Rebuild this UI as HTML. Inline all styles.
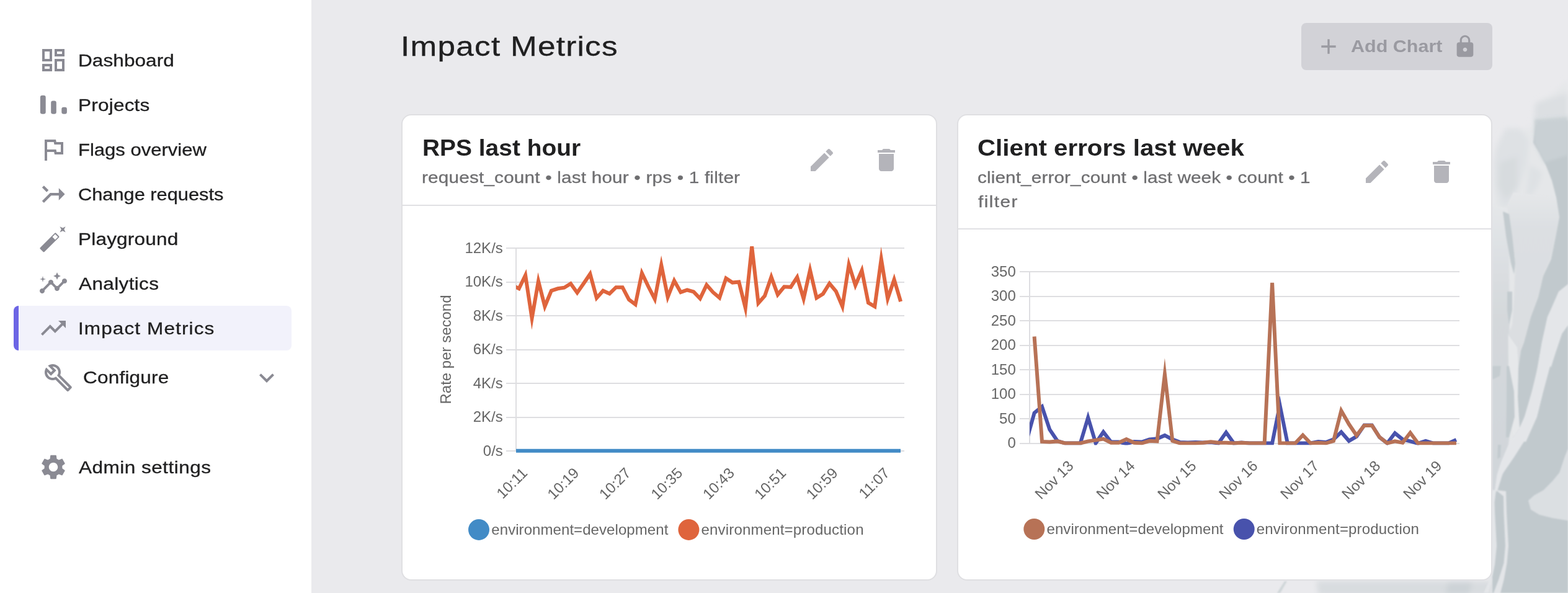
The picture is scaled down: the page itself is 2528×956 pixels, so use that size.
<!DOCTYPE html>
<html lang="en">
<head>
<meta charset="utf-8">
<title>Impact Metrics</title>
<meta name="viewport" content="width=2528">
<style>
*{box-sizing:border-box;margin:0;padding:0}
html,body{width:2528px;height:956px;overflow:hidden;background:#EAEAED}
body{font-family:"Liberation Sans",sans-serif;color:#202021;position:relative;-webkit-font-smoothing:antialiased}
.t{position:absolute;white-space:nowrap;font-weight:400;text-decoration:none;transform-origin:0 0;-webkit-text-stroke:0.3px currentColor}
.t.b{-webkit-text-stroke:0}
.ic{position:absolute;display:block}
#sidebar{position:absolute;left:0;top:0;width:502px;height:956px;background:#fff}
#sidebar ul{list-style:none}
.active{position:absolute;left:22px;top:493px;width:448px;height:72px;background:#F2F2FB;border-left:8px solid #6C65E5;border-radius:8px}
#main{position:absolute;left:502px;top:0;width:2026px;height:956px;background:#EAEAED;overflow:hidden}
#art{position:absolute;left:0;top:0;width:2026px;height:956px}
.abs{position:absolute;left:-502px;top:0;width:2528px;height:956px}
#addchart{position:absolute;left:2098px;top:37px;width:308px;height:76px;border-radius:8px;background:#D2D2D7;border:0}
.card{position:absolute;background:#fff;border:2px solid #DFDFE2;border-radius:16px}
.divider{position:absolute;height:2px;background:#E1E1E4}
svg.chart{position:absolute;left:0;top:0;width:2528px;height:956px;overflow:visible}
svg.chart text{font-family:"Liberation Sans",sans-serif;font-size:24px;fill:#666}
</style>
</head>
<body>

<aside id="sidebar"><nav aria-label="Main navigation">
<div class="active"></div>
<svg class="ic" style="left:62px;top:73px;width:48px;height:48px" viewBox="0 0 24 24" fill="#8A8A93" aria-hidden="true"><path d="M19 5v2h-4V5h4M9 5v6H5V5h4m10 8v6h-4v-6h4M9 17v2H5v-2h4M21 3h-8v6h8V3zM11 3H3v10h8V3zm10 8h-8v10h8V11zm-10 4H3v6h8v-6z"/></svg>
<a class="t" style="left:126.07px;top:79.60px;font-size:27.7px;line-height:36px;letter-spacing:0.044px;color:#202021;transform:scaleX(1.1400);">Dashboard</a>
<svg class="ic" style="left:62px;top:145px;width:48px;height:48px" viewBox="0 0 24 24" fill="#8A8A93" aria-hidden="true"><rect x="1.45" y="4.35" width="4.4" height="15" rx="1.6"/><rect x="10.1" y="8.75" width="4.3" height="10.6" rx="1.6"/><rect x="18.65" y="13.9" width="4.3" height="5.45" rx="1.6"/></svg>
<a class="t" style="left:126.07px;top:151.60px;font-size:27.7px;line-height:36px;letter-spacing:0.167px;color:#202021;transform:scaleX(1.1400);">Projects</a>
<svg class="ic" style="left:62px;top:217px;width:48px;height:48px" viewBox="0 0 24 24" fill="#8A8A93" aria-hidden="true"><path d="M12.36 6l.4 2H18v6h-3.36l-.4-2H7V6h5.36M14 4H5v17h2v-7h5.6l.4 2h7V6h-5.6L14 4z"/></svg>
<a class="t" style="left:126.22px;top:223.60px;font-size:27.7px;line-height:36px;letter-spacing:0.000px;color:#202021;transform:scaleX(1.1203);">Flags overview</a>
<svg class="ic" style="left:59.9px;top:286.9px;width:52.2px;height:52.2px" viewBox="0 0 24 24" fill="#8A8A93" aria-hidden="true"><g transform="matrix(0,-1,-1,0,24,24)"><path d="M17 20.41L18.41 19 15 15.59 13.59 17 17 20.41zM7.5 8H11v5.59L5.59 19 7 20.41l6-6V8h3.5L12 3.5 7.5 8z"/></g></svg>
<a class="t" style="left:126.06px;top:295.60px;font-size:27.7px;line-height:36px;letter-spacing:0.000px;color:#202021;transform:scaleX(1.1113);">Change requests</a>
<svg class="ic" style="left:62px;top:361px;width:48px;height:48px" viewBox="0 0 24 24" fill="#8A8A93" aria-hidden="true"><path d="M19.53 4.43m-2.3-2.3l2.3 1.15 2.3-1.15-1.15 2.3 1.15 2.3-2.3-1.15-2.3 1.15 1.15-2.3z"/><g transform="translate(8.96 14.99) rotate(-45)"><path fill-rule="evenodd" d="M-8.3-2.4h16.6a.7.7 0 0 1 .7.7v3.4a.7.7 0 0 1-.7.7h-16.6a.7.7 0 0 1-.7-.7v-3.4a.7.7 0 0 1 .7-.7zM4.8-1.6v3.2h3.2v-3.2z"/></g></svg>
<a class="t" style="left:126.17px;top:367.60px;font-size:27.7px;line-height:36px;letter-spacing:0.150px;color:#202021;transform:scaleX(1.1400);">Playground</a>
<svg class="ic" style="left:62px;top:433px;width:48px;height:48px" viewBox="0 0 24 24" fill="#8A8A93" aria-hidden="true"><path d="M21 8c-1.45 0-2.26 1.44-1.93 2.51l-3.55 3.56c-.3-.09-.74-.09-1.04 0l-2.55-2.55C12.27 10.45 11.46 9 10 9c-1.45 0-2.27 1.44-1.93 2.52l-4.56 4.55C2.44 15.74 1 16.55 1 18c0 1.1.9 2 2 2 1.45 0 2.26-1.44 1.93-2.51l4.55-4.56c.3.09.74.09 1.04 0l2.55 2.55C12.73 16.55 13.54 18 15 18c1.45 0 2.27-1.44 1.93-2.52l3.56-3.55c1.07.33 2.51-.48 2.51-1.93 0-1.1-.9-2-2-2z"/><path d="M15 9l.94-2.07L18 6l-2.06-.93L15 3l-.92 2.07L12 6l2.08.93z"/><path d="M3.5 11L4 9l2-.5L4 8l-.5-2L3 8l-2 .5L3 9z"/></svg>
<a class="t" style="left:126.80px;top:439.60px;font-size:27.7px;line-height:36px;letter-spacing:0.295px;color:#202021;transform:scaleX(1.1400);">Analytics</a>
<svg class="ic" style="left:62px;top:505px;width:48px;height:48px" viewBox="0 0 24 24" fill="#8A8A93" aria-hidden="true"><path d="M16 6l2.29 2.29-4.88 4.88-4-4L2 16.59 3.41 18l6-6 4 4 6.3-6.29L22 12V6z"/></svg>
<a class="t" style="left:125.86px;top:511.60px;font-size:27.7px;line-height:36px;letter-spacing:0.951px;color:#202021;transform:scaleX(1.1400);">Impact Metrics</a>
<svg class="ic" style="left:70px;top:585px;width:48px;height:48px" viewBox="0 0 24 24" fill="#8A8A93" aria-hidden="true"><path d="M22.61 18.99l-9.08-9.08c.93-2.34.45-5.1-1.44-7C9.79.61 6.21.4 3.66 2.26L7.5 6.11 6.08 7.52 2.25 3.69C.39 6.23.6 9.82 2.9 12.11c1.86 1.86 4.57 2.35 6.89 1.48l9.11 9.11c.39.39 1.02.39 1.41 0l2.3-2.3c.4-.38.4-1.01 0-1.41zm-3 1.6l-9.46-9.46c-.61.45-1.29.72-2 .82-1.36.2-2.79-.21-3.83-1.25C3.37 9.76 2.93 8.5 3 7.26l3.09 3.09 4.24-4.24-3.09-3.09c1.24-.07 2.49.37 3.44 1.31 1.08 1.08 1.49 2.57 1.24 3.96-.12.71-.42 1.37-.88 1.96l9.45 9.45-.88.89z"/></svg>
<a class="t" style="left:133.92px;top:591.40px;font-size:27.7px;line-height:36px;letter-spacing:0.159px;color:#202021;transform:scaleX(1.1400);">Configure</a>
<svg class="ic" style="left:406px;top:585px;width:48px;height:48px" viewBox="0 0 24 24" fill="#8A8A93" aria-hidden="true"><path d="M16.59 8.59L12 13.17 7.41 8.59 6 10l6 6 6-6z"/></svg>
<svg class="ic" style="left:62px;top:729px;width:48px;height:48px" viewBox="0 0 24 24" fill="#8A8A93" aria-hidden="true"><path d="M19.14 12.94c.04-.3.06-.61.06-.94 0-.32-.02-.64-.07-.94l2.03-1.58c.18-.14.23-.41.12-.61l-1.92-3.32c-.12-.22-.37-.29-.59-.22l-2.39.96c-.5-.38-1.03-.7-1.62-.94l-.36-2.54c-.04-.24-.24-.41-.48-.41h-3.84c-.24 0-.43.17-.47.41l-.36 2.54c-.59.24-1.13.57-1.62.94l-2.39-.96c-.22-.08-.47 0-.59.22L2.74 8.87c-.12.21-.08.47.12.61l2.03 1.58c-.05.3-.09.63-.09.94s.02.64.07.94l-2.03 1.58c-.18.14-.23.41-.12.61l1.92 3.32c.12.22.37.29.59.22l2.39-.96c.5.38 1.03.7 1.62.94l.36 2.54c.05.24.24.41.48.41h3.84c.24 0 .44-.17.47-.41l.36-2.54c.59-.24 1.13-.56 1.62-.94l2.39.96c.22.08.47 0 .59-.22l1.92-3.32c.12-.22.07-.47-.12-.61l-2.01-1.58zM12 15.6c-1.98 0-3.6-1.62-3.6-3.6s1.62-3.6 3.6-3.6 3.6 1.62 3.6 3.6-1.62 3.6-3.6 3.6z"/></svg>
<a class="t" style="left:126.60px;top:735.60px;font-size:27.7px;line-height:36px;letter-spacing:0.402px;color:#202021;transform:scaleX(1.1400);">Admin settings</a>
</nav></aside>
<main id="main"><div class="abs">
<svg id="art" style="position:absolute;left:0;top:0;width:2528px;height:956px" viewBox="0 0 2528 956" aria-hidden="true">
<defs>
<filter id="s1" x="-30%" y="-30%" width="160%" height="160%"><feGaussianBlur stdDeviation="1.2"/></filter>
<filter id="s2" x="-30%" y="-30%" width="160%" height="160%"><feGaussianBlur stdDeviation="4"/></filter>
<linearGradient id="strip" gradientUnits="userSpaceOnUse" x1="0" y1="330" x2="0" y2="795"><stop offset="0" stop-color="#E5E7E9"/><stop offset="0.12" stop-color="#DFE2E5"/><stop offset="0.4" stop-color="#D4D8DB"/><stop offset="1" stop-color="#D1D6DA"/></linearGradient><linearGradient id="lobe" gradientUnits="userSpaceOnUse" x1="0" y1="310" x2="0" y2="705"><stop offset="0" stop-color="#E5E7E9"/><stop offset="0.15" stop-color="#DCDFE2"/><stop offset="1" stop-color="#DADDE0"/></linearGradient><filter id="s3" x="-30%" y="-30%" width="160%" height="160%"><feGaussianBlur stdDeviation="2.2"/></filter>
</defs>
<g filter="url(#s2)">
<path d="M2528 128 L2505 150 L2478 166 L2470 205 L2450 210 L2427 208 L2410 240 L2406 300 L2406 800 L2528 800 Z" fill="#E5E7E9"/>
<path d="M2475 166 L2528 150 L2528 192 L2473 192 Z" fill="#DCDFE2"/>
<path d="M2427 207 L2450 207 L2465 226 L2462 262 L2450 300 L2436 330 L2420 336 L2410 300 L2408 262 L2415 232 Z" fill="#DEE1E4"/>
<path d="M2418 262 L2446 252 L2446 300 L2428 322 L2416 300 Z" fill="#D7DBDE"/>
<path d="M2466 265 L2487 278 L2480 300 L2466 318 L2460 316 Z" fill="#DEE1E4"/>
<path d="M2122 937 L2405 937 L2405 960 L2126 960 Z" fill="#D8DCDF"/>
<path d="M2335 938 L2374 938 L2368 960 L2330 960 Z" fill="#CDD3D7"/>
</g>
<g filter="url(#s1)">
<path d="M2406 330 L2428 335 L2433 352 L2434 700 L2428 752 L2414 790 L2406 795 Z" fill="url(#strip)"/>
<path d="M2430 330 L2440 310 L2509 318 L2514 350 L2509 377 L2500 418 L2488 445 L2480 479 L2468 511 L2457 552 L2452 565 L2448 592 L2447 640 L2450 690 L2440 705 L2432 660 L2432 592 L2431 540 L2438 524 L2441 479 L2443 425 Z" fill="url(#lobe)"/>
<path d="M2432 540 L2446 560 L2448 592 L2447 640 L2450 690 L2440 705 L2432 660 Z" fill="#E6E8EA"/>
<path d="M2406 590 L2420 590 L2418 606 L2406 612 Z" fill="#C5CCD0"/>
<path d="M2423 341 L2433 345 L2438 380 L2443 425 L2441 442 L2436 425 L2428 380 Z" fill="#C3CBCF"/>
<path d="M2430 470 L2438 470 L2438 500 L2433 524 L2430 500 Z" fill="#C3CBCF"/>
<path d="M2429 590 L2433 590 L2441 631 L2442 672 L2433 705 L2428 705 L2429 650 Z" fill="#C3CBCF"/>
<path d="M2415 717 L2420 717 L2419 737 L2414 740 Z" fill="#C3CBCF"/>
<path d="M2476 200 L2528 194 L2528 956 L2406 956 L2406 800 L2414 790 L2428 750 L2440 705 L2450 690 L2460 712 L2478 672 L2488 631 L2499 590 L2500.7 592 L2509 565 L2518 538 L2528 524 L2528 470 L2516 470 L2495 511 L2486 552 L2479 592 L2478 600 L2470 631 L2458 672 L2450 690 L2447 640 L2448 592 L2452 565 L2457 552 L2468 511 L2480 479 L2488 445 L2500.7 418 L2509 377 L2514 350 L2509 318 L2502 291 L2492.5 267 L2481.6 246 L2472 230 Z" fill="#C1C9CD"/>
<path filter="url(#s3)" d="M2474 192 L2528 188 L2528 250 L2490 262 L2481.6 246 L2473 230 Z" fill="#C9D0D4"/>
<path d="M2528 458 L2513 470 L2495 511 L2486 552 L2479 592 L2470 631 L2458 672 L2450 690 L2440 705 L2434 712 L2420 745 L2413.6 765 L2410 790 L2414 792 L2421.8 765 L2441 737 L2457 712 L2460 712 L2477.5 672 L2488 631 L2499 590 L2509 565 L2518 538 L2528 524 Z" fill="#E4E6E9"/>
<path d="M2464 807 L2473.5 798.4 L2488.4 790.3 L2503.4 775.3 L2514.3 761.7 L2522.4 737.2 L2528 723.6 L2528 839.3 L2503.4 835.2 L2481.6 829.7 L2468 821.6 Z" fill="#DBDFE2"/>
<path d="M2405 790 L2412 790 L2409.5 810 L2410 826 L2413 880 L2410 910 L2406 930 L2400 956 L2392 956 L2400 938 L2405 920 Z" fill="#E3E5E8"/>
<path d="M2412 790 L2428 792 L2429 826 L2432 880 L2429.5 908 L2424.5 935 L2419 956 L2408 956 L2416 935 L2424.5 908 L2427 880 L2424.5 826 L2424 800 Z" fill="#E3E5E8"/>
<path d="M2059 956 L2071 937 L2075 937 L2064 956 Z" fill="#CFD5D8"/>
</g>
</svg>

<h1 class="t" style="left:646.38px;top:46.31px;font-size:45px;line-height:58px;letter-spacing:1.091px;color:#202021;transform:scaleX(1.1400);">Impact Metrics</h1>
<div id="addchart" role="button" aria-disabled="true"></div>
<svg class="ic" style="left:2121.5px;top:55px;width:40px;height:40px" viewBox="0 0 24 24" fill="#9A9AA1" aria-hidden="true"><path d="M19 13h-6v6h-2v-6H5v-2h6V5h2v6h6v2z"/></svg>
<span class="t b" style="left:2177.94px;top:57.24px;font-size:27.6px;line-height:36px;letter-spacing:0.000px;color:#9A9AA1;font-weight:700;transform:scaleX(1.1062);">Add Chart</span>
<svg class="ic" style="left:2342px;top:54.5px;width:40px;height:40px" viewBox="0 0 24 24" fill="#9A9AA1" aria-hidden="true"><path d="M18 8h-1V6c0-2.76-2.24-5-5-5S7 3.24 7 6v2H6c-1.1 0-2 .9-2 2v10c0 1.1.9 2 2 2h12c1.1 0 2-.9 2-2V10c0-1.1-.9-2-2-2zm-6 9c-1.1 0-2-.9-2-2s.9-2 2-2 2 .9 2 2-.9 2-2 2zm3.1-9H8.9V6c0-1.71 1.39-3.1 3.1-3.1 1.71 0 3.1 1.39 3.1 3.1v2z"/></svg>
<section class="card" style="left:647px;top:184px;width:864px;height:751.7px"></section>
<div class="divider" style="left:649px;top:330px;width:860px"></div>
<h2 class="t b" style="left:681.37px;top:214.85px;font-size:36.5px;line-height:47px;letter-spacing:0.000px;color:#202021;font-weight:700;transform:scaleX(1.0659);">RPS last hour</h2>
<p class="t" style="left:680.47px;top:269.29px;font-size:26px;line-height:34px;letter-spacing:0.193px;color:#6E6E70;transform:scaleX(1.1400);">request_count • last hour • rps • 1 filter</p>
<svg class="ic" style="left:1301px;top:233.5px;width:48px;height:48px" viewBox="0 0 24 24" fill="#B4B4BA" aria-hidden="true"><path d="M3 17.25V21h3.75L17.81 9.94l-3.75-3.75L3 17.25zM20.71 7.04c.39-.39.39-1.02 0-1.41l-2.34-2.34c-.39-.39-1.02-.39-1.41 0l-1.83 1.83 3.75 3.75 1.83-1.83z"/></svg>
<svg class="ic" style="left:1405px;top:233.5px;width:48px;height:48px" viewBox="0 0 24 24" fill="#B4B4BA" aria-hidden="true"><path d="M6 19c0 1.1.9 2 2 2h8c1.1 0 2-.9 2-2V7H6v12zM19 4h-3.5l-1-1h-5l-1 1H5v2h14V4z"/></svg>
<section class="card" style="left:1543px;top:184px;width:863px;height:751.7px"></section>
<div class="divider" style="left:1545px;top:368px;width:859px"></div>
<h2 class="t b" style="left:1575.89px;top:214.95px;font-size:36.5px;line-height:47px;letter-spacing:0.000px;color:#202021;font-weight:700;transform:scaleX(1.1036);">Client errors last week</h2>
<p class="t" style="left:1575.81px;top:269.19px;font-size:26px;line-height:34px;letter-spacing:0.134px;color:#6E6E70;transform:scaleX(1.1400);">client_error_count • last week • count • 1</p>
<p class="t" style="left:1576.56px;top:308.19px;font-size:26px;line-height:34px;letter-spacing:1.293px;color:#6E6E70;transform:scaleX(1.1400);">filter</p>
<svg class="ic" style="left:2196px;top:253px;width:48px;height:48px" viewBox="0 0 24 24" fill="#B4B4BA" aria-hidden="true"><path d="M3 17.25V21h3.75L17.81 9.94l-3.75-3.75L3 17.25zM20.71 7.04c.39-.39.39-1.02 0-1.41l-2.34-2.34c-.39-.39-1.02-.39-1.41 0l-1.83 1.83 3.75 3.75 1.83-1.83z"/></svg>
<svg class="ic" style="left:2300px;top:253px;width:48px;height:48px" viewBox="0 0 24 24" fill="#B4B4BA" aria-hidden="true"><path d="M6 19c0 1.1.9 2 2 2h8c1.1 0 2-.9 2-2V7H6v12zM19 4h-3.5l-1-1h-5l-1 1H5v2h14V4z"/></svg>
<svg class="chart" viewBox="0 0 2528 956" role="img" aria-label="Impact metrics charts">
<defs><clipPath id="clip1"><rect x="832" y="397" width="626" height="333"/></clipPath><clipPath id="clip2"><rect x="1660" y="435" width="693" height="282.6"/></clipPath></defs>
<g id="chart-rps">
<g stroke="#DEDEE1" stroke-width="2" fill="none">
<line x1="816" y1="400" x2="1458" y2="400"/>
<line x1="816" y1="455" x2="1458" y2="455"/>
<line x1="816" y1="509" x2="1458" y2="509"/>
<line x1="816" y1="564" x2="1458" y2="564"/>
<line x1="816" y1="618" x2="1458" y2="618"/>
<line x1="816" y1="673" x2="1458" y2="673"/>
<line x1="816" y1="727" x2="1458" y2="727"/>
<line x1="832" y1="399" x2="832" y2="728"/>
</g>
<text x="810.8" y="407.7" text-anchor="end">12K/s</text>
<text x="810.8" y="462.2" text-anchor="end">10K/s</text>
<text x="810.8" y="516.7" text-anchor="end">8K/s</text>
<text x="810.8" y="571.2" text-anchor="end">6K/s</text>
<text x="810.8" y="625.7" text-anchor="end">4K/s</text>
<text x="810.8" y="680.2" text-anchor="end">2K/s</text>
<text x="810.8" y="734.7" text-anchor="end">0/s</text>
<text transform="translate(726.6 563.5) rotate(-90)" text-anchor="middle">Rate per second</text>
<text transform="translate(845.5 758) rotate(-45)" text-anchor="end" dy="8.6">10:11</text>
<text transform="translate(928.9 758) rotate(-45)" text-anchor="end" dy="8.6">10:19</text>
<text transform="translate(1012.4 758) rotate(-45)" text-anchor="end" dy="8.6">10:27</text>
<text transform="translate(1095.8 758) rotate(-45)" text-anchor="end" dy="8.6">10:35</text>
<text transform="translate(1179.3 758) rotate(-45)" text-anchor="end" dy="8.6">10:43</text>
<text transform="translate(1262.7 758) rotate(-45)" text-anchor="end" dy="8.6">10:51</text>
<text transform="translate(1346.1 758) rotate(-45)" text-anchor="end" dy="8.6">10:59</text>
<text transform="translate(1429.6 758) rotate(-45)" text-anchor="end" dy="8.6">11:07</text>
<path d="M826 726.8 H1452" stroke="#428BC6" stroke-width="6" fill="none" clip-path="url(#clip1)"/>
<path d="M826.3 460 L836.7 465.3 L847.1 443.8 L857.6 513 L868 453.3 L878.4 494 L888.9 468.7 L899.3 465.3 L909.7 463.7 L920.1 457.3 L930.6 471.9 L941 457 L951.4 441.7 L961.9 480.4 L972.3 468.7 L982.7 473.4 L993.2 463.2 L1003.6 463.2 L1014 483 L1024.4 490.8 L1034.9 440.3 L1045.3 462 L1055.7 482.2 L1066.2 427.4 L1076.6 478.9 L1087 452.5 L1097.5 471.2 L1107.9 467.5 L1118.3 470.4 L1128.7 481.3 L1139.2 459.4 L1149.6 471.2 L1160 480 L1170.5 448.6 L1180.9 455.6 L1191.3 454.5 L1201.8 496.3 L1212.2 397.6 L1222.6 488.7 L1233 477 L1243.5 446.4 L1253.9 475 L1264.3 462.3 L1274.8 462.8 L1285.2 446.9 L1295.6 481.7 L1306 435.4 L1316.5 480.2 L1326.9 473.7 L1337.3 457 L1347.8 469.5 L1358.2 494.1 L1368.6 426.6 L1379.1 460 L1389.5 436 L1399.9 488 L1410.3 494.2 L1420.8 417.7 L1431.2 481.5 L1441.6 450.6 L1452.1 486.2" stroke="#DF643C" stroke-width="6" fill="none" stroke-linejoin="miter" stroke-miterlimit="10" clip-path="url(#clip1)"/>
<circle cx="772" cy="853.9" r="17" fill="#428BC6"/>
<text x="792.3" y="862" textLength="285" lengthAdjust="spacing">environment=development</text>
<circle cx="1110.4" cy="853.9" r="17" fill="#DF643C"/>
<text x="1130.5" y="862" textLength="262" lengthAdjust="spacing">environment=production</text>
</g>
<g id="chart-errors">
<g stroke="#DEDEE1" stroke-width="2" fill="none">
<line x1="1644" y1="438" x2="2353" y2="438"/>
<line x1="1644" y1="478" x2="2353" y2="478"/>
<line x1="1644" y1="517" x2="2353" y2="517"/>
<line x1="1644" y1="557" x2="2353" y2="557"/>
<line x1="1644" y1="596" x2="2353" y2="596"/>
<line x1="1644" y1="636" x2="2353" y2="636"/>
<line x1="1644" y1="675" x2="2353" y2="675"/>
<line x1="1644" y1="715" x2="2353" y2="715"/>
<line x1="1660" y1="437" x2="1660" y2="716"/>
</g>
<text x="1637.8" y="445.8" text-anchor="end">350</text>
<text x="1637.8" y="485.3" text-anchor="end">300</text>
<text x="1637.8" y="524.8" text-anchor="end">250</text>
<text x="1637.8" y="564.3" text-anchor="end">200</text>
<text x="1637.8" y="603.8" text-anchor="end">150</text>
<text x="1637.8" y="643.3" text-anchor="end">100</text>
<text x="1637.8" y="682.8" text-anchor="end">50</text>
<text x="1637.8" y="722.3" text-anchor="end">0</text>
<text transform="translate(1726.1 746.5) rotate(-45)" text-anchor="end" dy="8.6">Nov 13</text>
<text transform="translate(1825.1 746.5) rotate(-45)" text-anchor="end" dy="8.6">Nov 14</text>
<text transform="translate(1924 746.5) rotate(-45)" text-anchor="end" dy="8.6">Nov 15</text>
<text transform="translate(2023 746.5) rotate(-45)" text-anchor="end" dy="8.6">Nov 16</text>
<text transform="translate(2121.9 746.5) rotate(-45)" text-anchor="end" dy="8.6">Nov 17</text>
<text transform="translate(2220.9 746.5) rotate(-45)" text-anchor="end" dy="8.6">Nov 18</text>
<text transform="translate(2319.9 746.5) rotate(-45)" text-anchor="end" dy="8.6">Nov 19</text>
<path d="M1655.2 710 L1667.6 665.7 L1680 655.6 L1692.3 692.4 L1704.7 710.8 L1717.1 714.5 L1729.4 714.5 L1741.8 714.5 L1754.2 673.2 L1766.6 714.5 L1778.9 696.4 L1791.3 712.5 L1803.7 712.5 L1816 715.3 L1828.4 712 L1840.8 712.5 L1853.1 708.4 L1865.5 707.2 L1877.9 701.9 L1890.3 708.4 L1902.6 713 L1915 713.5 L1927.4 713 L1939.7 713.5 L1952.1 713 L1964.5 714.5 L1976.8 697.1 L1989.2 714.5 L2001.6 713.5 L2014 714.5 L2026.3 714.5 L2038.7 714.5 L2051.1 714.5 L2063.4 653 L2075.8 714.5 L2088.2 714.5 L2100.5 714.5 L2112.9 714.5 L2125.3 712 L2137.7 713 L2150 708.4 L2162.4 696.5 L2174.8 710.8 L2187.1 703.7 L2199.5 685.5 L2211.9 685.5 L2224.2 705 L2236.6 714.5 L2249 698.3 L2261.4 708.4 L2273.7 711.4 L2286.1 714.9 L2298.5 710.8 L2310.8 714.5 L2323.2 714.5 L2335.6 714.5 L2347.9 709" stroke="#4852AC" stroke-width="6" fill="none" stroke-linejoin="miter" stroke-miterlimit="10" clip-path="url(#clip2)"/>
<path d="M1667.6 542.5 L1680 712 L1692.3 712.6 L1704.7 711.4 L1717.1 714.5 L1729.4 714.5 L1741.8 714.5 L1754.2 711.4 L1766.6 709.6 L1778.9 707.5 L1791.3 713.7 L1803.7 713.7 L1816 708 L1828.4 713.7 L1840.8 714.5 L1853.1 710.8 L1865.5 711.4 L1877.9 603.5 L1890.3 710.8 L1902.6 714.5 L1915 714.5 L1927.4 714.5 L1939.7 713.7 L1952.1 712.2 L1964.5 713.7 L1976.8 713.7 L1989.2 714.5 L2001.6 713.7 L2014 714.5 L2026.3 714.5 L2038.7 714.5 L2051.1 456 L2063.4 714.5 L2075.8 714.5 L2088.2 714.5 L2100.5 701.5 L2112.9 714.5 L2125.3 713.7 L2137.7 714.5 L2150 710.8 L2162.4 662.1 L2174.8 683.8 L2187.1 701.9 L2199.5 685.9 L2211.9 685.9 L2224.2 704.8 L2236.6 714.5 L2249 711.4 L2261.4 713.7 L2273.7 697.7 L2286.1 714.5 L2298.5 714.5 L2310.8 714.5 L2323.2 714.5 L2335.6 714.5 L2347.9 714.5" stroke="#B77256" stroke-width="6" fill="none" stroke-linejoin="miter" stroke-miterlimit="10" clip-path="url(#clip2)"/>
<circle cx="1667.3" cy="853" r="17" fill="#B77256"/>
<text x="1687.5" y="861.1" textLength="285" lengthAdjust="spacing">environment=development</text>
<circle cx="2005.7" cy="853" r="17" fill="#4852AC"/>
<text x="2025.8" y="861.1" textLength="262" lengthAdjust="spacing">environment=production</text>
</g>
</svg>
</div></main>
</body>
</html>
